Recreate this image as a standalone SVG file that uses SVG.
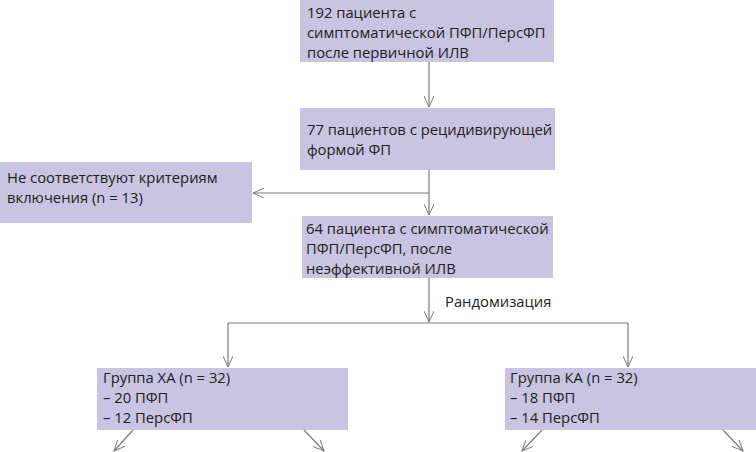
<svg xmlns="http://www.w3.org/2000/svg" width="756" height="452" viewBox="0 0 756 452">
<style>
.box{fill:#c8c4e1}
.t{font-family:"Open Sans","Noto Sans",sans-serif;font-size:14.8px;fill:#222}
.c{stroke:#7a7a7a;stroke-width:1.2;fill:none}
</style>
<defs>
<marker id="ah" viewBox="0 0 12 10" refX="11" refY="5" markerWidth="12" markerHeight="10" markerUnits="userSpaceOnUse" orient="auto">
<path d="M0,0 L11,5 L0,10" fill="none" stroke="#7a7a7a" stroke-width="1"/>
</marker>
</defs>
<rect width="756" height="452" fill="#fff"/>
<g id="connectors">
<line class="c" x1="429" y1="62" x2="429" y2="107" marker-end="url(#ah)"/>
<line class="c" x1="429" y1="170" x2="429" y2="215" marker-end="url(#ah)"/>
<line class="c" x1="429" y1="193" x2="253" y2="193" marker-end="url(#ah)"/>
<line class="c" x1="429" y1="278" x2="429" y2="322" marker-end="url(#ah)"/>
<line class="c" x1="228" y1="323" x2="628" y2="323"/>
<line class="c" x1="228" y1="323" x2="228" y2="367" marker-end="url(#ah)"/>
<line class="c" x1="628" y1="323" x2="628" y2="367" marker-end="url(#ah)"/>
<line class="c" x1="133" y1="430" x2="114" y2="451" marker-end="url(#ah)"/>
<line class="c" x1="304" y1="430" x2="324" y2="451" marker-end="url(#ah)"/>
<line class="c" x1="542" y1="430" x2="522" y2="451" marker-end="url(#ah)"/>
<line class="c" x1="723" y1="430" x2="743" y2="451" marker-end="url(#ah)"/>
<text class="t" x="445" y="307">Рандомизация</text>
</g>
<g id="n1">
<rect class="box" x="300" y="0" width="254" height="62"/>
<text class="t" x="307" y="18">192 пациента с</text>
<text class="t" x="307" y="38">симптоматической ПФП/ПерсФП</text>
<text class="t" x="307" y="58">после первичной ИЛВ</text>
</g>
<g id="n2">
<rect class="box" x="300" y="108" width="255" height="62"/>
<text class="t" x="307" y="135">77 пациентов с рецидивирующей</text>
<text class="t" x="307" y="155">формой ФП</text>
</g>
<g id="n3">
<rect class="box" x="0" y="162" width="252" height="61"/>
<text class="t" x="7" y="183">Не соответствуют критериям</text>
<text class="t" x="7" y="203">включения (n = 13)</text>
</g>
<g id="n4">
<rect class="box" x="302" y="216" width="251" height="62"/>
<text class="t" x="306" y="234">64 пациента с симптоматической</text>
<text class="t" x="306" y="254">ПФП/ПерсФП, после</text>
<text class="t" x="306" y="274">неэффективной ИЛВ</text>
</g>
<g id="n5">
<rect class="box" x="97" y="368" width="251" height="62"/>
<text class="t" x="103" y="383">Группа ХА (n = 32)</text>
<text class="t" x="103" y="403">– 20 ПФП</text>
<text class="t" x="103" y="423">– 12 ПерсФП</text>
</g>
<g id="n6">
<rect class="box" x="505" y="368" width="251" height="62"/>
<text class="t" x="510" y="383">Группа КА (n = 32)</text>
<text class="t" x="510" y="403">– 18 ПФП</text>
<text class="t" x="510" y="423">– 14 ПерсФП</text>
</g>
</svg>
